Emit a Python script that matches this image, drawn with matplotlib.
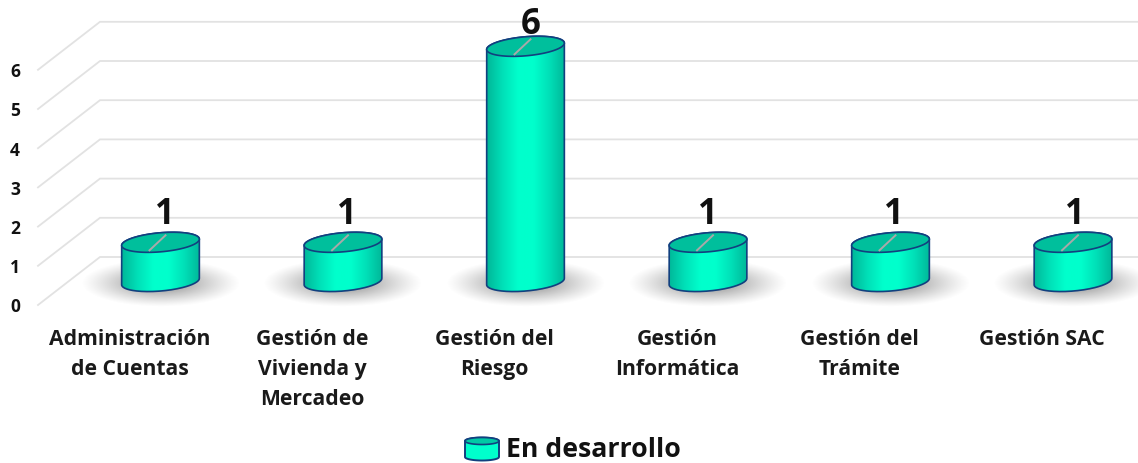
import numpy as np
import matplotlib
matplotlib.use('Agg')
import matplotlib.pyplot as plt
from matplotlib.colors import LinearSegmentedColormap
from matplotlib.patches import PathPatch
from matplotlib.path import Path

# datos del grafico
categories = ['Administración\nde Cuentas', 'Gestión de\nVivienda y\nMercadeo', 'Gestión del\nRiesgo',
              'Gestión\nInformática', 'Gestión del\nTrámite', 'Gestión SAC']
values = [1, 1, 6, 1, 1, 1]
y_ticks = [0, 1, 2, 3, 4, 5, 6]
legend_label = 'En desarrollo'

W, H = 1138, 464
STEP = 182.5      # px por categoria
UNIT = 39.2       # px por unidad
X0, Y0 = 160.5, 282.5   # posicion de la primera barra, valor 0
FONT = 'Open Sans'
EDGE = '#12407f'

# pequeños ajustes de las etiquetas (px)
value_dx = [4.5, 4, 5, 0, 3, 1.5]
value_dy = [28, 28, 22, 28, 28, 28]

fig = plt.figure(figsize=(W / 100, H / 100), dpi=100)
ax = fig.add_axes([0, 0, 1, 1])
ax.set_xlim(-X0 / STEP, (W - X0) / STEP)
ax.set_ylim((Y0 - H) / UNIT, Y0 / UNIT)
ax.axis('off')


def dx(px):
    return px / STEP


def dy(px):
    return -px / UNIT  # px hacia abajo


def ellipse_pts(cx, cy, a, b, t0=0.0, t1=2 * np.pi, n=80, tilt=5.0):
    t = np.linspace(t0, t1, n)
    r = np.radians(tilt)
    ex = a * np.cos(t) * np.cos(r) + b * np.sin(t) * np.sin(r)
    ey = -a * np.cos(t) * np.sin(r) + b * np.sin(t) * np.cos(r)
    return np.column_stack([cx + dx(ex), cy + dy(ey)])


body_cmap = LinearSegmentedColormap.from_list('body', ['#00b899', '#00e0b8', '#00ffcc', '#00ffcc', '#00e0b8', '#00b899'])
shadow_cmap = LinearSegmentedColormap.from_list('shadow', [(0.5, 0.5, 0.5, 0), (0.5, 0.5, 0.5, 1)])

# paredes y lineas de la cuadricula
for v in y_ticks:
    xs = [dx(38 - X0), dx(100 - X0), dx(W - X0)]
    ys = [v + dy(23.5), v - dy(24.5), v - dy(24.5)]
    ax.plot(xs, ys, color='#e2e2e2', lw=1.3, zorder=1, solid_joinstyle='miter')
    ax.text(dx(15 - X0), v + dy(25), str(v), fontsize=12.5, fontweight='bold', family=FONT,
            color='#111111', ha='center', va='center', zorder=5)

# sombra debajo de cada barra
gx, gy = np.meshgrid(np.linspace(-1, 1, 160), np.linspace(-1, 1, 80))
blur = np.clip(1 - np.sqrt(gx ** 2 + gy ** 2), 0, 1) ** 1.2
for i, v in enumerate(values):
    ax.imshow(blur, extent=[i + dx(-80), i + dx(80), dy(26), dy(-22)], cmap=shadow_cmap,
              vmin=0, vmax=1, aspect='auto', zorder=2, origin='lower')

# cilindros
grad = np.linspace(0, 1, 200).reshape(1, -1)
for i, v in enumerate(values):
    a, b = 39.0, 9.5
    top = ellipse_pts(i, v, a, b, tilt=5)
    bottom = ellipse_pts(i, 0, a, b, 0, np.pi, tilt=5)
    # contorno del cuerpo: mitad inferior y mitad de arriba
    upper = ellipse_pts(i, v, a, b, np.pi, 2 * np.pi, tilt=5)
    outline = np.vstack([bottom, upper, bottom[:1]])
    path = Path(outline)
    im = ax.imshow(grad, extent=[i + dx(-a), i + dx(a), 0 + dy(12), v + dy(-12)], cmap=body_cmap,
                   aspect='auto', zorder=3)
    clip = PathPatch(path, transform=ax.transData, fc='none', ec='none')
    ax.add_patch(clip)
    im.set_clip_path(clip)
    ax.add_patch(PathPatch(path, fc='none', ec=EDGE, lw=1.2, zorder=4))
    ax.add_patch(PathPatch(Path(top), fc='#00bf9c', ec=EDGE, lw=1.2, zorder=4))
    ax.plot([i + dx(-11), i + dx(5)], [v + dy(8), v + dy(-7)], color='#a9a9a9', lw=1.4, zorder=5)
    ax.text(i + dx(value_dx[i]), v + dy(-value_dy[i]), str(v), fontsize=25, fontweight='bold', family=FONT,
            color='#111111', ha='center', va='center', zorder=6)

# etiquetas de categoria
for i, name in enumerate(categories):
    ax.text(i + dx(-31), dy(46.5), name, fontsize=15.2, fontweight='bold', family=FONT, color='#1a1a1a',
            ha='center', va='top', linespacing=1.56, zorder=6)

# leyenda
lx, ly = dx(482 - X0), dy(450 - Y0)
icon_top = ellipse_pts(lx, ly + dy(-8), 17, 3.5, tilt=0)
lower = ellipse_pts(lx, ly + dy(8), 17, 3.5, 0, np.pi, tilt=0)
upper = ellipse_pts(lx, ly + dy(-8), 17, 3.5, np.pi, 2 * np.pi, tilt=0)
ax.add_patch(PathPatch(Path(np.vstack([lower, upper, lower[:1]])), fc='#00ffcc', ec=EDGE, lw=1.4, zorder=4))
ax.add_patch(PathPatch(Path(icon_top), fc='#00c9a5', ec=EDGE, lw=1.2, zorder=4))
ax.text(dx(506 - X0), ly, legend_label, fontsize=19.2, fontweight='bold', family=FONT,
        color='#111111', ha='left', va='center', zorder=6)

fig.savefig('out.png', dpi=100)
